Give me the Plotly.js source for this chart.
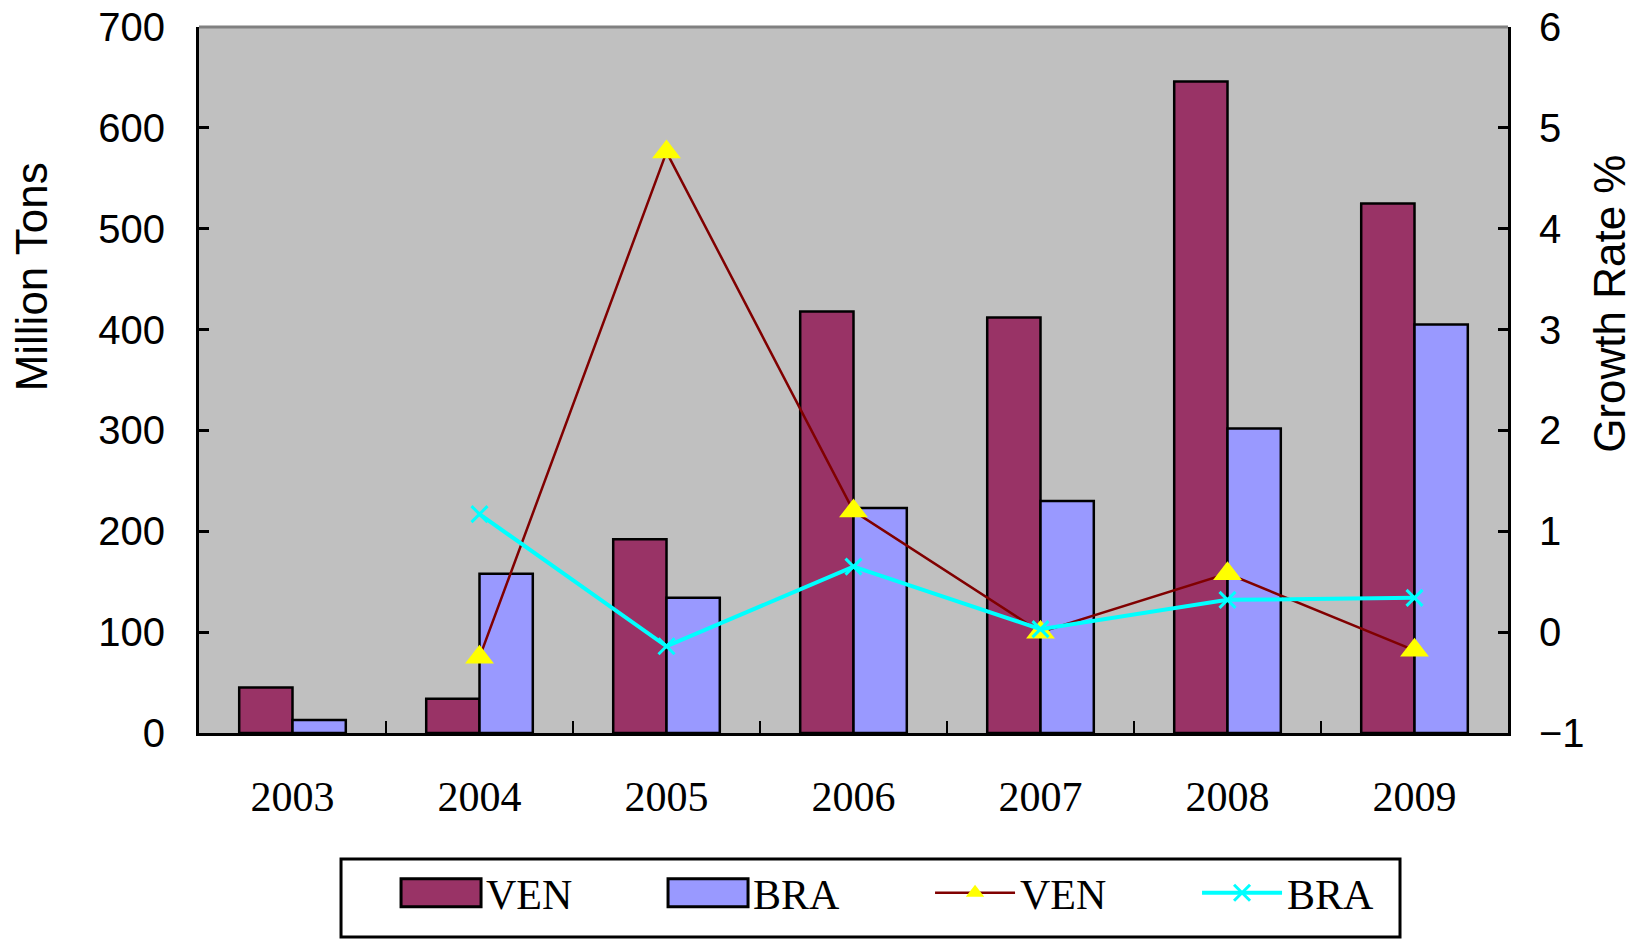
<!DOCTYPE html>
<html>
<head>
<meta charset="utf-8">
<script src="https://cdn.plot.ly/plotly-3.0.1.min.js"></script>
<style>html,body{margin:0;padding:0;background:#fff;}#chart{width:1644px;height:939px;}</style>
</head>
<body>
<div id="chart"></div>
<script>
const years = ["2003", "2004", "2005", "2006", "2007", "2008", "2009"];
const venTons = [45, 34, 192, 418, 412, 646, 525];
const braTons = [13, 158, 134, 223, 230, 302, 405];
const venGrowth = [null, -0.25, 4.76, 1.2, 0.0, 0.58, -0.18];
const braGrowth = [null, 1.17, -0.14, 0.65, 0.03, 0.32, 0.34];
const leftTicks = [0, 100, 200, 300, 400, 500, 600, 700];
const rightTicks = [-1, 0, 1, 2, 3, 4, 5, 6];

const traces = [
  {type: "bar", name: "VEN", x: years, y: venTons,
   marker: {color: "#993366", line: {color: "#000", width: 2.5}}},
  {type: "bar", name: "BRA", x: years, y: braTons,
   marker: {color: "#9999FF", line: {color: "#000", width: 2.5}}},
  {type: "scatter", mode: "lines+markers", name: "VEN", x: years, y: venGrowth, yaxis: "y2",
   line: {color: "#800000", width: 2.5},
   marker: {symbol: "triangle-up", color: "#FFFF00", size: 25}},
  {type: "scatter", mode: "lines+markers", name: "BRA", x: years, y: braGrowth, yaxis: "y2",
   line: {color: "#00FFFF", width: 4},
   marker: {symbol: "x-thin", color: "#00FFFF", size: 16, line: {color: "#00FFFF", width: 3}}}
];

const sans = "Liberation Sans, Arial, sans-serif";
const serif = "Liberation Serif, Times New Roman, serif";

const layout = {
  width: 1644, height: 939,
  margin: {l: 199, r: 136, t: 27, b: 206},
  paper_bgcolor: "#FFFFFF",
  plot_bgcolor: "#C0C0C0",
  barmode: "group",
  bargap: 0.43,
  bargroupgap: 0,
  showlegend: true,
  legend: {
    orientation: "h", xref: "container", yref: "container",
    x: 0.2409, y: 0.0852, xanchor: "left", yanchor: "top",
    borderwidth: 0, bgcolor: "rgba(0,0,0,0)",
    font: {family: serif, size: 42, color: "#000"},
    itemwidth: 80, entrywidth: 172, entrywidthmode: "pixels",
    traceorder: "normal"
  },
  xaxis: {
    type: "category", categoryarray: years,
    showline: true, linecolor: "#000", linewidth: 3,
    ticks: "inside", tickson: "boundaries", ticklen: 12, tickwidth: 2.5, tickcolor: "#000",
    tickfont: {family: serif, size: 42, color: "#000"},
    ticklabelstandoff: 25,
    showgrid: false, zeroline: false, fixedrange: true
  },
  yaxis: {
    range: [0, 700], tickvals: leftTicks,
    showline: true, linecolor: "#000", linewidth: 3,
    ticks: "inside", ticklen: 10, tickwidth: 3, tickcolor: "#000",
    tickfont: {family: sans, size: 40, color: "#000"},
    ticklabelstandoff: 23,
    showgrid: false, zeroline: false
  },
  yaxis2: {
    overlaying: "y", side: "right",
    range: [-1, 6], tickvals: rightTicks,
    showline: true, linecolor: "#000", linewidth: 3,
    ticks: "inside", ticklen: 10, tickwidth: 3, tickcolor: "#000",
    tickfont: {family: sans, size: 40, color: "#000"},
    ticklabelstandoff: 20,
    showgrid: false, zeroline: false
  },
  shapes: [
    {type: "line", xref: "paper", yref: "paper", x0: 0, x1: 1, y0: 1, y1: 1,
     line: {color: "#808080", width: 3}},
    {type: "rect", xref: "paper", yref: "paper", x0: 0.1085, x1: 0.9175, y0: -0.1785, y1: -0.289,
     line: {color: "#000", width: 3}, fillcolor: "rgba(0,0,0,0)", layer: "below"}
  ],
  annotations: [
    {text: "Million Tons", xref: "paper", yref: "paper", x: -0.128, y: 0.646,
     xanchor: "center", yanchor: "middle",
     showarrow: false, textangle: -90, font: {family: sans, size: 44, color: "#000"}},
    {text: "Growth Rate %", xref: "paper", yref: "paper", x: 1.078, y: 0.608,
     xanchor: "center", yanchor: "middle",
     showarrow: false, textangle: -90, font: {family: sans, size: 44, color: "#000"}}
  ]
};

Plotly.newPlot("chart", traces, layout, {displayModeBar: false, staticPlot: true}).then(function () {
  // enlarge the bar swatches in the legend to the wide boxes of the original
  document.querySelectorAll("#chart .legend path.legendundefined, #chart .legend .legendpoints path").forEach(function (p) {
    const d = p.getAttribute("d") || "";
    if (d === "M6,6H-6V-6H6Z") {
      p.setAttribute("d", "M-40,14H40V-14H-40Z");
      p.style.strokeWidth = "3px";
    }
  });
});
</script>
</body>
</html>
